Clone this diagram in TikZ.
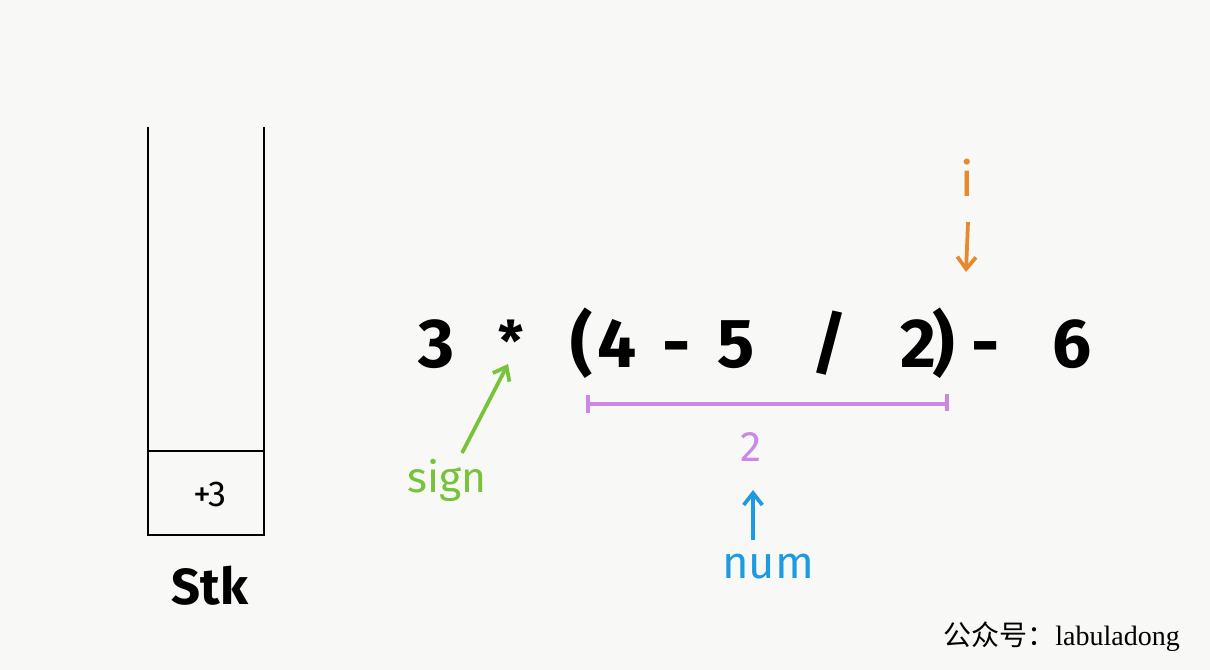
\documentclass[tikz,border=0pt]{standalone}
\usepackage{fontspec}
\setmainfont{Fira Sans}
\newfontfamily\hand{Fira Sans}
\newfontfamily\cjk{Noto Sans CJK SC}
\newfontfamily\wm{Liberation Serif}
\usetikzlibrary{arrows.meta}
\definecolor{bg}{HTML}{F8F8F6}
\definecolor{signgreen}{HTML}{77C33A}
\definecolor{numblue}{HTML}{1E9BE0}
\definecolor{ipurple}{HTML}{CC88E6}
\definecolor{iorange}{HTML}{E8892E}
\tikzset{
  expr/.style={font=\fontsize{52}{52}\selectfont\bfseries, inner sep=0pt, anchor=base},
  handlbl/.style={font=\hand\fontsize{32}{32}\selectfont\mdseries, inner sep=0pt},
  stackline/.style={line width=1.8pt, black},
  arr/.style={line width=2.8pt, -{Straight Barb[length=9pt,width=14pt]}},
}
\begin{document}
\begin{tikzpicture}[x=0.75pt,y=-0.75pt]
\fill[bg] (0,0) rectangle (1210,670);
\useasboundingbox (0,0) rectangle (1210,670);
% stack
\coordinate (sTL) at (148,127);
\coordinate (sTR) at (264,127);
\coordinate (sBL) at (148,535);
\coordinate (sBR) at (264,535);
\draw[stackline] (sTL) -- (sBL) -- (sBR) -- (sTR);
\draw[stackline] (148,451) -- (264,451);
\node[font=\hand\fontsize{27}{27}\selectfont, inner sep=0pt] (plus3) at (210,494) {+3};
\node[font=\hand\fontsize{38}{38}\selectfont\bfseries, inner sep=0pt] (stk) at (210,586) {Stk};
% expression
\node[expr] (c3) at (437,367) {3};
\node[expr, font=\fontsize{42}{42}\selectfont\bfseries] (cstar) at (511,361) {*};
\node[expr] (lp) at (582,367) {(};
\node[expr] (c4) at (617,367) {4};
\node[expr] (m1) at (677,367) {-};
\node[expr] (c5) at (736,367) {5};
\node[expr] (sl) at (830,367) {/};
\node[expr] (c2) at (918,367) {2};
\node[expr] (rp) at (944,367) {)};
\node[expr] (m2) at (986,367) {-};
\node[expr] (c6) at (1072,367) {6};
% purple bracket
\coordinate (bL) at (588,404);
\coordinate (bR) at (947,404);
\draw[ipurple, line width=2.5pt] (bL) -- (bR);
\draw[ipurple, line width=2.5pt] (588,395) -- (588,413);
\draw[ipurple, line width=2.5pt] (947,394) -- (947,411);
\node[handlbl, text=ipurple] (two) at (751,447) {2};
% num
\node[handlbl, text=numblue, font=\hand\fontsize{34}{34}\selectfont] (num) at (768,567) {num};
\coordinate (numtip) at (753,490);
\draw[arr, numblue] (753,540) -- (numtip);
% sign
\node[handlbl, text=signgreen] (sign) at (447,480) {sign};
\coordinate (signtip) at (508,364);
\draw[arr, signgreen] (462,453) -- (signtip);
% i
\node[handlbl, text=iorange, font=\hand\fontsize{36}{36}\selectfont] (ilbl) at (967,178) {i};
\coordinate (itip) at (966,272);
\draw[arr, iorange] (968,222) -- (itip);
% watermark
\node[font=\fontsize{21}{21}\selectfont, inner sep=0pt, anchor=base east] (wm) at (1180,645) {{\cjk 公众号：}{\wm labuladong}};
\end{tikzpicture}
\end{document}
